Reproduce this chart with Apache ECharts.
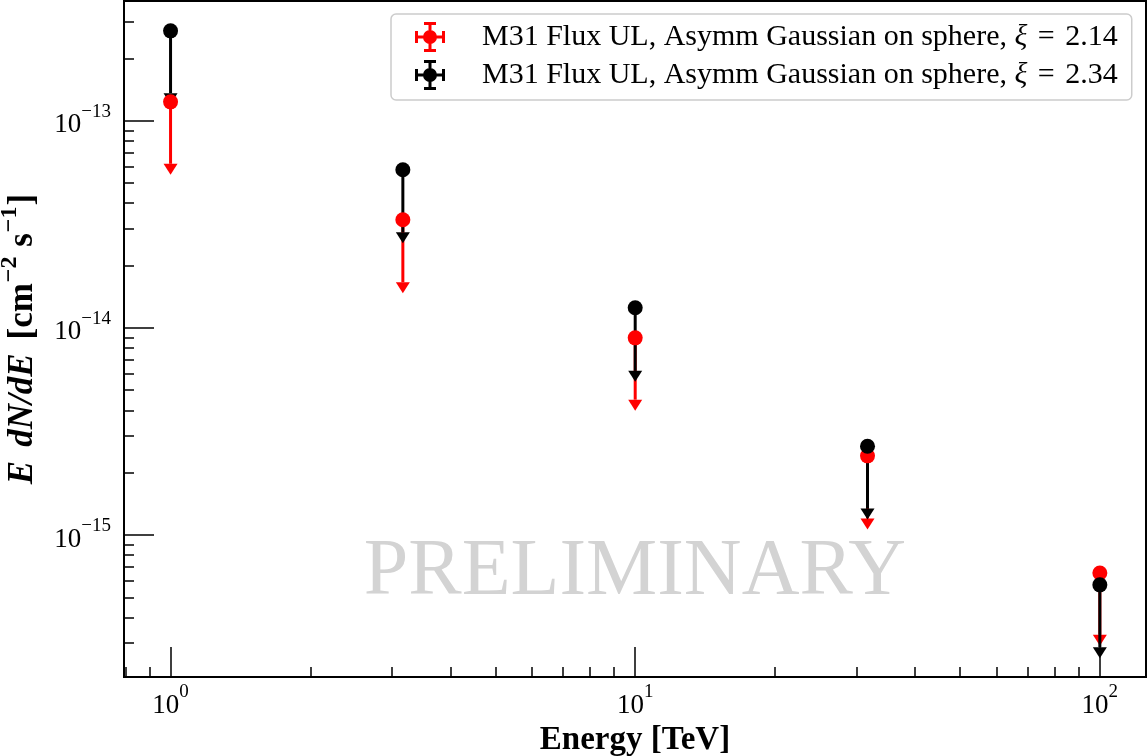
<!DOCTYPE html>
<html>
<head>
<meta charset="utf-8">
<script src="https://cdn.jsdelivr.net/npm/echarts@6/dist/echarts.min.js"></script>
<style>
  html, body { margin: 0; padding: 0; background: #fff; }
  #main { width: 1148px; height: 756px; }
</style>
</head>
<body>
<div id="main"></div>
<script>
// energies [TeV]
var energy = [1, 3.162, 10, 31.62, 100];
// xi = 2.14 (red): upper limit and lower end of the arrow
var fluxRed = [1.235e-13, 3.33e-14, 8.95e-15, 2.41e-15, 6.55e-16];
var lowRed = [6.2e-14, 1.66e-14, 4.5e-15, 1.2e-15, 3.3e-16];
// xi = 2.34 (black)
var fluxBlack = [2.72e-13, 5.8e-14, 1.25e-14, 2.68e-15, 5.74e-16];
var lowBlack = [1.36e-13, 2.9e-14, 6.2e-15, 1.34e-15, 2.87e-16];

var nameRed = 'M31 Flux UL, Asymm Gaussian on sphere, ξ = 2.14';
var nameBlack = 'M31 Flux UL, Asymm Gaussian on sphere, ξ = 2.34';

// tick positions
var xMajor = [1, 10, 100];
var xMinor = [0.8, 0.9, 2, 3, 4, 5, 6, 7, 8, 9, 20, 30, 40, 50, 60, 70, 80, 90];
var yMajor = [1e-15, 1e-14, 1e-13];
var yMinor = [3e-16, 4e-16, 5e-16, 6e-16, 7e-16, 8e-16, 9e-16,
  2e-15, 3e-15, 4e-15, 5e-15, 6e-15, 7e-15, 8e-15, 9e-15,
  2e-14, 3e-14, 4e-14, 5e-14, 6e-14, 7e-14, 8e-14, 9e-14,
  2e-13, 3e-13];

var serif = '"Liberation Serif", "DejaVu Serif", serif';
var xMin = 0.794, xMax = 125.7, yMin = 2.06e-16, yMax = 3.79e-13;

// errorbar marker used in the legend
var ebIcon = 'path://M13.5,0h3v30h-3z M9,0h12v3h-12z M9,27h12v3h-12z ' +
  'M0,13.5h30v3h-30z M0,9h3v12h-3z M27,9h3v12h-3z ' +
  'M8,15a7,7 0 1,1 14,0a7,7 0 1,1 -14,0z';

function pack(a, b) {
  return energy.map(function (e, i) { return b ? [e, a[i], b[i]] : [e, a[i]]; });
}

function powLabel(v) {
  var e = Math.round(Math.log10(v));
  return '{b|10}{s|' + String(e).replace('-', '\u2212') + '}';
}

var tickRich = {
  b: { fontFamily: serif, fontSize: 27, lineHeight: 36, verticalAlign: 'bottom', color: '#000' },
  s: { fontFamily: serif, fontSize: 19, lineHeight: 20, verticalAlign: 'top', color: '#000' }
};

// upper-limit line with downward arrow head
function renderUL(params, api) {
  var p0 = api.coord([api.value(0), api.value(1)]);
  var p1 = api.coord([api.value(0), api.value(2)]);
  var c = api.visual('color');
  return {
    type: 'group',
    children: [{
      type: 'line',
      shape: { x1: p0[0], y1: p0[1], x2: p1[0], y2: p1[1] },
      style: { stroke: c, lineWidth: 3 }
    }, {
      type: 'polygon',
      shape: { points: [[p1[0] - 7, p1[1]], [p1[0] + 7, p1[1]], [p1[0], p1[1] + 11]] },
      style: { fill: c }
    }]
  };
}

var myChart = echarts.init(document.getElementById('main'));

option = {
  animation: false,
  grid: {
    left: 124, right: 2, top: 1, bottom: 79,
    outerBoundsMode: 'none', containLabel: false,
    show: true, borderColor: '#000', borderWidth: 2, backgroundColor: 'transparent'
  },
  legend: {
    orient: 'vertical', left: 391, top: 14,
    padding: [8, 14, 10, 24],
    itemGap: 8, itemWidth: 30, itemHeight: 30,
    borderColor: '#cccccc', borderWidth: 1.5, borderRadius: 5,
    backgroundColor: 'rgba(255,255,255,0.8)',
    data: [{ name: nameRed, icon: ebIcon }, { name: nameBlack, icon: ebIcon }],
    formatter: function (name) {
      return '{sp| }' + name.replace('ξ = ', '{xi|ξ}{eq| = }');
    },
    textStyle: {
      fontFamily: serif, fontSize: 30, color: '#000',
      rich: {
        sp: { width: 32, fontSize: 30, fontFamily: serif },
        xi: { fontStyle: 'italic', fontSize: 30, fontFamily: serif, color: '#000' },
        eq: { fontSize: 30, fontFamily: serif, color: '#000', padding: [0, 3, 0, 3] }
      }
    }
  },
  xAxis: [{
    type: 'log', min: xMin, max: xMax,
    name: 'Energy [TeV]', nameLocation: 'middle', nameGap: 41,
    nameTextStyle: { fontFamily: serif, fontWeight: 'bold', fontSize: 33, color: '#000' },
    axisLine: { show: false },
    splitLine: { show: false },
    axisTick: { inside: true, length: 30, customValues: xMajor, lineStyle: { color: '#000', width: 1.5 } },
    axisLabel: { customValues: xMajor, margin: 6, formatter: powLabel, rich: tickRich }
  }, {
    type: 'log', min: xMin, max: xMax, position: 'bottom',
    axisLine: { show: false },
    splitLine: { show: false },
    axisTick: { inside: true, length: 10, customValues: xMinor, lineStyle: { color: '#000', width: 1.5 } },
    axisLabel: { show: false }
  }],
  yAxis: [{
    type: 'log', min: yMin, max: yMax,
    name: '{bi|E}{g| }{bi|dN/dE}{g| }{b|[cm}{sup|\u22122}{b| s}{sup|\u22121}{b|]}',
    nameLocation: 'middle', nameGap: 84, nameRotate: 90,
    nameTextStyle: {
      rich: {
        bi: { fontFamily: serif, fontWeight: 'bold', fontStyle: 'italic', fontSize: 35, lineHeight: 42, verticalAlign: 'bottom', color: '#000' },
        b: { fontFamily: serif, fontWeight: 'bold', fontSize: 35, lineHeight: 42, verticalAlign: 'bottom', color: '#000' },
        g: { fontFamily: serif, fontSize: 35, width: 14, lineHeight: 42, verticalAlign: 'bottom' },
        sup: { fontFamily: serif, fontWeight: 'bold', fontSize: 24, lineHeight: 24, verticalAlign: 'top', color: '#000', padding: [0, 1, 0, 1] }
      }
    },
    axisLine: { show: false },
    splitLine: { show: false },
    axisTick: { inside: true, length: 30, customValues: yMajor, lineStyle: { color: '#000', width: 1.5 } },
    axisLabel: { customValues: yMajor, margin: 13, formatter: powLabel, rich: tickRich }
  }, {
    type: 'log', min: yMin, max: yMax, position: 'left',
    axisLine: { show: false },
    splitLine: { show: false },
    axisTick: { inside: true, length: 10, customValues: yMinor, lineStyle: { color: '#000', width: 1.5 } },
    axisLabel: { show: false }
  }],
  graphic: [{
    type: 'text', x: 635, y: 573, z: 0,
    style: {
      text: 'PRELIMINARY', fill: '#d3d3d3',
      font: '80px ' + serif, align: 'center', verticalAlign: 'middle'
    }
  }],
  series: [{
    name: nameRed + ' bars', type: 'custom', z: 2,
    itemStyle: { color: '#ff0000' },
    encode: { x: 0, y: 1 },
    renderItem: renderUL,
    data: pack(fluxRed, lowRed)
  }, {
    name: nameBlack + ' bars', type: 'custom', z: 2,
    itemStyle: { color: '#000000' },
    encode: { x: 0, y: 1 },
    renderItem: renderUL,
    data: pack(fluxBlack, lowBlack)
  }, {
    name: nameRed, type: 'scatter', z: 3,
    symbolSize: 15,
    itemStyle: { color: '#ff0000', opacity: 1 },
    data: pack(fluxRed)
  }, {
    name: nameBlack, type: 'scatter', z: 4,
    symbolSize: 15,
    itemStyle: { color: '#000000', opacity: 1 },
    data: pack(fluxBlack)
  }]
};
myChart.setOption(option);
</script>
</body>
</html>
